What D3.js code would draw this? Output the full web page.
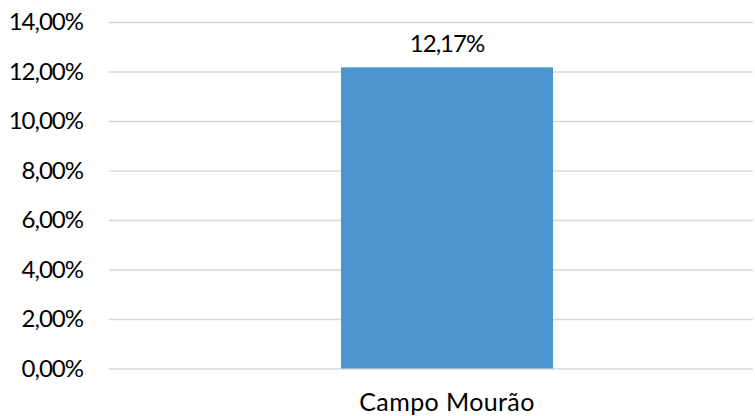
<!DOCTYPE html>
<html><head><meta charset="utf-8">
<script src="https://cdn.jsdelivr.net/npm/d3@7"></script>
<style>body{margin:0;background:#fff}svg{display:block}text{font-family:Lato,"Open Sans",sans-serif;fill:#000}</style>
</head><body>
<svg id="c" width="755" height="416"></svg>
<script>
const categories = ["Campo Mourão"];
const values = [12.17];
const yTicks = [0, 2, 4, 6, 8, 10, 12, 14];
const fmt = v => v.toFixed(2).replace(".", ",") + "%";

const svg = d3.select("#c");
const y = d3.scaleLinear().domain([0, 14]).range([368.5, 22]);
const x = d3.scaleBand().domain(categories).range([109, 785]).paddingInner(0.5225).paddingOuter(0.5225);

const yAxis = svg.append("g").attr("transform", "translate(109,0)")
  .call(d3.axisLeft(y).tickValues(yTicks).tickFormat(fmt).tickSize(-644).tickPadding(26));
yAxis.select(".domain").remove();
yAxis.selectAll(".tick line").attr("stroke", "#d9d9d9").attr("stroke-width", 1.5);
yAxis.selectAll(".tick text").style("font-size", "24px").style("letter-spacing", "-1px").attr("fill", "#000");

svg.selectAll("rect.bar").data(values).join("rect").attr("class", "bar")
  .attr("x", (d, i) => x(categories[i])).attr("width", x.bandwidth())
  .attr("y", d => y(d)).attr("height", d => y(0) - y(d)).attr("fill", "#4e95d0");

svg.selectAll("text.lbl").data(values).join("text").attr("class", "lbl")
  .attr("x", (d, i) => x(categories[i]) + x.bandwidth() / 2).attr("y", d => y(d) - 15)
  .attr("text-anchor", "middle").style("font-size", "24px").style("letter-spacing", "-1px").text(fmt);

const xAxis = svg.append("g").attr("transform", `translate(0,${y(0)})`)
  .call(d3.axisBottom(x).tickSize(0).tickPadding(25));
xAxis.select(".domain").remove();
xAxis.selectAll(".tick text").style("font-size", "25px").style("letter-spacing", "0.4px").attr("fill", "#000");
</script>
</body></html>
